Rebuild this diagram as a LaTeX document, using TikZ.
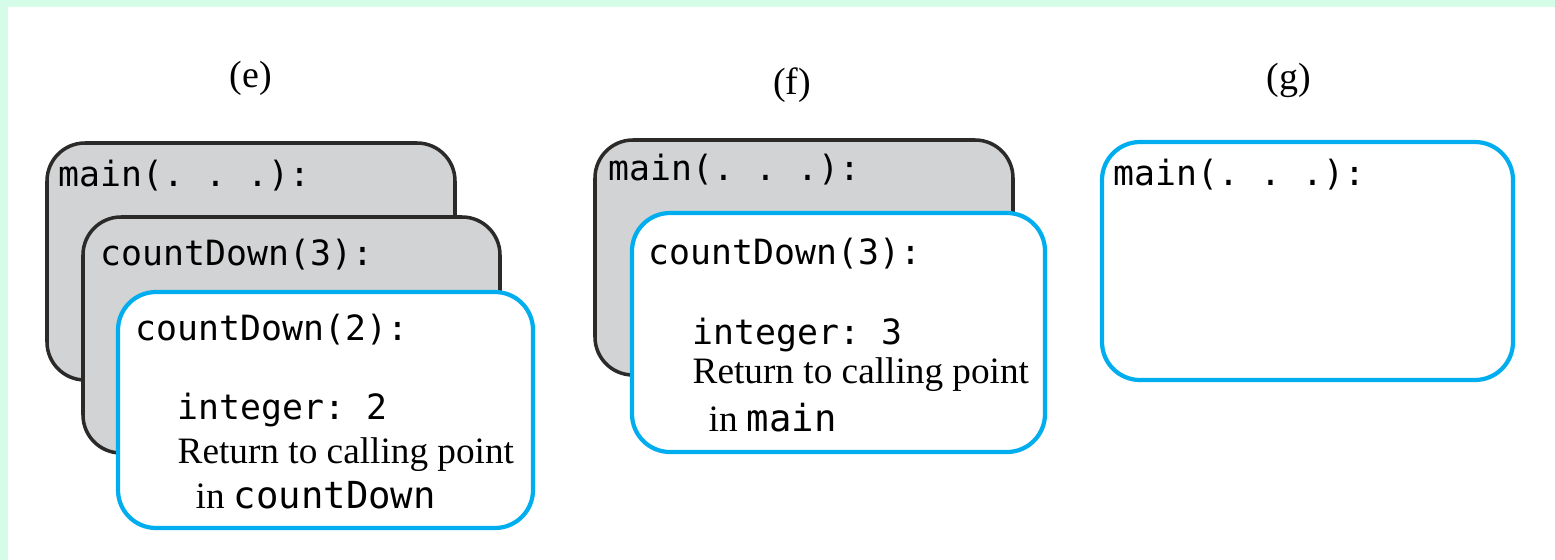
\documentclass[tikz,border=0pt]{standalone}
\usepackage{fontspec}
\setmainfont{Liberation Serif}
\setmonofont{DejaVu Sans Mono}
\definecolor{myframegray}{HTML}{D1D3D4}
\definecolor{myframeblue}{HTML}{00AEEF}
\definecolor{myedgecolor}{HTML}{2B2A29}
\definecolor{mymintcolor}{HTML}{D4FCE6}

\begin{document}
\begin{tikzpicture}[
  oldframe/.style={draw=myedgecolor, line width=1pt, fill=myframegray, rectangle, rounded corners=0.38cm},
  topframe/.style={draw=myframeblue, line width=1.2pt, fill=white, rectangle, rounded corners=0.38cm},
  codetext/.style={anchor=west, inner sep=0pt, font=\fontsize{9.9pt}{9.9pt}\selectfont\ttfamily},
  prosetext/.style={anchor=west, inner sep=0pt, font=\fontsize{10.6pt}{10.6pt}\selectfont},
  steplabel/.style={inner sep=0pt, font=\fontsize{10.8pt}{10.8pt}\selectfont}]
\fill[mymintcolor] (0,0) rectangle (15.55,-5.60);%
\fill[white] (0.08,-0.07) rectangle (15.55,-5.60);%
\useasboundingbox (0,0) rectangle (15.55,-5.60);%
% (e)
\node[steplabel] (labelE) at (2.51,-0.78) {(e)};%
\node[oldframe, minimum width=4.08cm, minimum height=2.37cm] (mainE) at (2.51,-2.615) {};%
\node[oldframe, minimum width=4.17cm, minimum height=2.36cm] (cdThreeE) at (2.915,-3.35) {};%
\node[topframe, minimum width=4.15cm, minimum height=2.36cm] (cdTwoE) at (3.255,-4.10) {};%
\node[codetext] (mainTextE) at (0.58,-1.76) {main(. . .):};%
\node[codetext] (cdThreeTextE) at (1.00,-2.55) {countDown(3):};%
\node[codetext] (cdTwoTextE) at (1.35,-3.30) {countDown(2):};%
\node[codetext] (intTextE) at (1.77,-4.10) {integer: 2};%
\node[prosetext] (retTextE) at (1.77,-4.55) {Return to calling point};%
\node[prosetext] (inTextE) at (1.95,-4.95) {in \texttt{countDown}};%
% (f)
\node[steplabel] (labelF) at (7.92,-0.85) {(f)};%
\node[oldframe, minimum width=4.18cm, minimum height=2.35cm] (mainF) at (8.04,-2.575) {};%
\node[topframe, minimum width=4.13cm, minimum height=2.39cm] (cdThreeF) at (8.385,-3.325) {};%
\node[codetext] (mainTextF) at (6.08,-1.70) {main(. . .):};%
\node[codetext] (cdThreeTextF) at (6.48,-2.54) {countDown(3):};%
\node[codetext] (intTextF) at (6.92,-3.35) {integer: 3};%
\node[prosetext] (retTextF) at (6.92,-3.75) {Return to calling point};%
\node[prosetext] (inTextF) at (7.08,-4.18) {in \texttt{main}};%
% (g)
\node[steplabel] (labelG) at (12.89,-0.80) {(g)};%
\node[topframe, minimum width=4.11cm, minimum height=2.38cm] (mainG) at (13.075,-2.61) {};%
\node[codetext] (mainTextG) at (11.13,-1.75) {main(. . .):};%
\end{tikzpicture}
\end{document}
